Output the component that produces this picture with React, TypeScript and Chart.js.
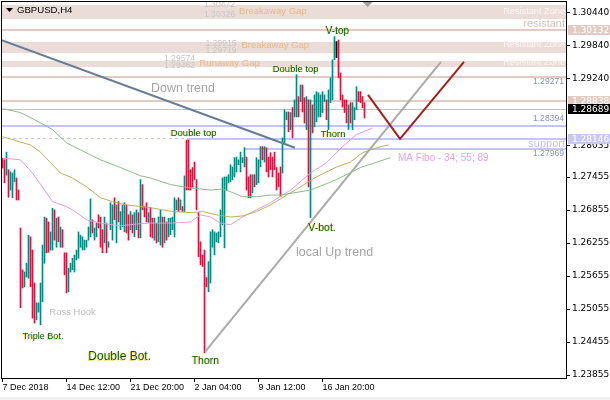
import React, { useEffect, useRef } from "react";
import { Chart, registerables } from "chart.js";

Chart.register(...registerables);

// ---------- data ----------
const symbolTitle = "GBPUSD,H4";

const xTickBars = [0, 32, 64, 96, 128, 160];
const xTickLabels = ["7 Dec 2018", "14 Dec 12:00", "21 Dec 20:00", "2 Jan 04:00", "9 Jan 12:00", "16 Jan 20:00"];
const yTickValues = [1.3044, 1.2984, 1.2924, 1.28035, 1.27455, 1.26855, 1.26255, 1.25655, 1.25055, 1.24455, 1.23855];

const highs = [
  1.2780, 1.2777, 1.2791, 1.2759, 1.2755, 1.2753, 1.2759, 1.2744, 1.2722, 1.2653,
  1.2577, 1.2573, 1.2589, 1.2640, 1.2637, 1.2613, 1.2553, 1.2517, 1.2517, 1.2553,
  1.2622, 1.2673, 1.2671, 1.2664, 1.2646, 1.2689, 1.2686, 1.2671, 1.2673, 1.2655,
  1.2650, 1.2608, 1.2608, 1.2580, 1.2589, 1.2598, 1.2604, 1.2613, 1.2646, 1.2640,
  1.2637, 1.2631, 1.2631, 1.2655, 1.2706, 1.2668, 1.2653, 1.2662, 1.2677, 1.2673,
  1.2650, 1.2673, 1.2662, 1.2628, 1.2699, 1.2695, 1.2708, 1.2695, 1.2701, 1.2683,
  1.2695, 1.2699, 1.2695, 1.2677, 1.2683, 1.2677, 1.2681, 1.2686, 1.2681, 1.2741,
  1.2732, 1.2692, 1.2699, 1.2681, 1.2690, 1.2671, 1.2671, 1.2662, 1.2673, 1.2686,
  1.2673, 1.2673, 1.2664, 1.2671, 1.2671, 1.2673, 1.2708, 1.2704, 1.2708, 1.2704,
  1.2692, 1.2748, 1.2813, 1.2813, 1.2759, 1.2763, 1.2773, 1.2741, 1.2681, 1.2628,
  1.2604, 1.2613, 1.2563, 1.2592, 1.2646, 1.2650, 1.2646, 1.2644, 1.2646, 1.2686,
  1.2744, 1.2746, 1.2746, 1.2750, 1.2768, 1.2764, 1.2781, 1.2782, 1.2777, 1.2791,
  1.2781, 1.2799, 1.2782, 1.2746, 1.2750, 1.2750, 1.2750, 1.2781, 1.2777, 1.2801,
  1.2801, 1.2801, 1.2799, 1.2782, 1.2790, 1.2782, 1.2791, 1.2763, 1.2753, 1.2764,
  1.2817, 1.2868, 1.2864, 1.2864, 1.2863, 1.2872, 1.2886, 1.2932, 1.2892, 1.2913,
  1.2913, 1.2890, 1.2892, 1.2886, 1.2886, 1.2877, 1.2895, 1.2901, 1.2899, 1.2895,
  1.2901, 1.2895, 1.2886, 1.2904, 1.2926, 1.2959, 1.3001, 1.2992, 1.2995, 1.2935,
  1.2895, 1.2886, 1.2886, 1.2877, 1.2881, 1.2881, 1.2872, 1.2910, 1.2901, 1.2901,
  1.2892, 1.2881,
];

const lows = [
  1.2762, 1.2735, 1.2749, 1.2709, 1.2722, 1.2708, 1.2737, 1.2704, 1.2704, 1.2508,
  1.2544, 1.2546, 1.2564, 1.2562, 1.2546, 1.2489, 1.2480, 1.2486, 1.2500, 1.2477,
  1.2519, 1.2589, 1.2608, 1.2609, 1.2613, 1.2613, 1.2631, 1.2618, 1.2628, 1.2618,
  1.2618, 1.2568, 1.2535, 1.2537, 1.2573, 1.2577, 1.2573, 1.2595, 1.2598, 1.2618,
  1.2613, 1.2613, 1.2618, 1.2631, 1.2637, 1.2644, 1.2631, 1.2637, 1.2653, 1.2618,
  1.2608, 1.2626, 1.2608, 1.2618, 1.2650, 1.2631, 1.2668, 1.2626, 1.2664, 1.2650,
  1.2655, 1.2646, 1.2644, 1.2631, 1.2650, 1.2644, 1.2637, 1.2650, 1.2635, 1.2635,
  1.2686, 1.2673, 1.2664, 1.2663, 1.2637, 1.2635, 1.2631, 1.2626, 1.2628, 1.2622,
  1.2618, 1.2626, 1.2631, 1.2637, 1.2641, 1.2650, 1.2637, 1.2686, 1.2683, 1.2686,
  1.2683, 1.2683, 1.2722, 1.2722, 1.2722, 1.2728, 1.2741, 1.2686, 1.2601, 1.2586,
  1.2583, 1.2426, 1.2546, 1.2537, 1.2553, 1.2618, 1.2604, 1.2628, 1.2626, 1.2637,
  1.2659, 1.2617, 1.2722, 1.2735, 1.2737, 1.2741, 1.2746, 1.2755, 1.2768, 1.2755,
  1.2772, 1.2764, 1.2722, 1.2708, 1.2708, 1.2717, 1.2728, 1.2732, 1.2735, 1.2764,
  1.2777, 1.2773, 1.2755, 1.2746, 1.2759, 1.2746, 1.2759, 1.2722, 1.2728, 1.2710,
  1.2753, 1.2808, 1.2850, 1.2828, 1.2832, 1.2817, 1.2855, 1.2855, 1.2855, 1.2883,
  1.2864, 1.2844, 1.2832, 1.2728, 1.2672, 1.2826, 1.2837, 1.2846, 1.2855, 1.2855,
  1.2863, 1.2883, 1.2850, 1.2832, 1.2881, 1.2886, 1.2959, 1.2963, 1.2926, 1.2886,
  1.2873, 1.2863, 1.2844, 1.2832, 1.2844, 1.2832, 1.2850, 1.2868, 1.2883, 1.2881,
  1.2872, 1.2853,
];

// u = up bar, d = down bar, k = unchanged
const barDirs = (
  "dduduuuddd" + "duuuddduuu" + "uudduududu" + "ddduuuuuuu" + "uuuuuduudd" +
  "duduuududu" + "uudduduudu" + "dddudduduu" + "duduuuuudu" + "dudddddddd" +
  "ddduuuuuuu" + "uuuuuuuuuu" + "uuddduduuu" + "dudddddddd" + "uuududuudu" +
  "ddududuuuu" + "uuduuuukdd" + "ddduduuudd" + "dd"
).split("");

// moving averages sampled at bar index: [bar, value]
const ma34 = [
  [0, 1.2780], [9, 1.2777], [15, 1.2753], [22, 1.2717], [25, 1.2701], [32, 1.2692], [35, 1.2686],
  [42, 1.2668], [49, 1.2662], [59, 1.2657], [69, 1.2661], [74, 1.2662], [85, 1.2662], [94, 1.2664],
  [99, 1.2677], [104, 1.2673], [109, 1.2662], [114, 1.2659], [120, 1.2673], [127, 1.2686],
  [134, 1.2699], [144, 1.2722], [154, 1.2753], [162, 1.2772], [170, 1.2801], [177, 1.2823], [185, 1.2835],
];
const ma55 = [
  [0, 1.2819], [4, 1.2815], [14, 1.2804], [19, 1.2791], [24, 1.2772], [29, 1.2753], [35, 1.2744],
  [42, 1.2728], [49, 1.2708], [55, 1.2701], [62, 1.2695], [69, 1.2692], [74, 1.2690], [85, 1.2683],
  [94, 1.2681], [100, 1.2683], [107, 1.2677], [114, 1.2673], [120, 1.2675], [127, 1.2683],
  [134, 1.2695], [149, 1.2728], [157, 1.2746], [167, 1.2764], [174, 1.2773], [180, 1.2790],
  [189, 1.2801], [193, 1.2804],
];
const ma89 = [
  [0, 1.2870], [9, 1.2863], [16, 1.2850], [25, 1.2832], [32, 1.2808], [39, 1.2795], [49, 1.2777],
  [59, 1.2763], [69, 1.2748], [74, 1.2744], [84, 1.2732], [94, 1.2726], [104, 1.2722], [110, 1.2724],
  [114, 1.2719], [120, 1.2710], [127, 1.2710], [134, 1.2713], [139, 1.2713], [154, 1.2722],
  [167, 1.2741], [179, 1.2763], [194, 1.2781],
];

const zoneTops = [1.3059, 1.29915, 1.29574];
const zoneBottoms = [1.30326, 1.29719, 1.29462];
const resistanceLevels = [1.30132, 1.29271, 1.28838];
const supportLevels = [1.28394, 1.28146, 1.27969];
const supportFromBar = [-1, 92, 121];
const supportDashedBefore = [false, true, false];
const lastPrice = 1.28689;

const downTrend = [[-0.75, 1.2995], [146.25, 1.2799]];
const upTrend = [[101.25, 1.2428], [219.25, 1.2955]];
const forecastPath = [[182.75, 1.2895], [198.75, 1.2815], [230.75, 1.2955]];

const axisBoxes = [
  { value: 1.30132, kind: "res" },
  { value: 1.28838, kind: "res" },
  { value: 1.28689, kind: "last" },
  { value: 1.28146, kind: "sup" },
];

// ---------- styles ----------
const SANS = "'Liberation Sans', Arial, sans-serif";
const DJV = "'DejaVu Sans', sans-serif";
const TEAL = "#00897f";
const RED = "#e0103c";
const ZONE_FILL = "#ecdcd8";
const RES_LINE = "#e2cbc4";
const SUP_LINE = "#c4c4f6";

const noteStyles: any = {
  gapNum: { font: `8.6px ${SANS}`, color: "#c6c6c6" },
  gap: { font: `9.5px ${SANS}`, color: "#e2bb8a" },
  pattern: { font: `9.5px ${SANS}`, color: "#0b5a0b", shadow: "#d8c400" },
  trend: { font: `12.5px ${SANS}`, color: "#a4a4a4" },
  hook: { font: `9.5px ${SANS}`, color: "#bcbcbc" },
  zone: { font: `9.2px ${SANS}`, color: "#fbf6f5" },
  resistant: { font: `11px ${SANS}`, color: "#d8c0ba" },
  level: { font: `8.6px ${SANS}`, color: "#8a94a8" },
  support: { font: `11px ${SANS}`, color: "#c0c0f2" },
  ma: { font: `10px ${SANS}`, color: "#e3a5e3" },
};

const chartNotes: any[] = [
  { text: "1.30472", bar: 116.25, price: 1.30594, kind: "gapNum", align: "right" },
  { text: "1.30326", bar: 116.25, price: 1.30412, kind: "gapNum", align: "right" },
  { text: "Breakaway Gap", bar: 118.25, price: 1.30476, kind: "gap", align: "left" },
  { text: "1.29915", bar: 117, price: 1.29885, kind: "gapNum", align: "right" },
  { text: "1.29719", bar: 117, price: 1.29758, kind: "gapNum", align: "right" },
  { text: "Breakaway Gap", bar: 119.5, price: 1.29849, kind: "gap", align: "left" },
  { text: "1.29574", bar: 96.25, price: 1.29612, kind: "gapNum", align: "right" },
  { text: "1.29462", bar: 96.25, price: 1.29476, kind: "gapNum", align: "right" },
  { text: "Runaway Gap", bar: 98.5, price: 1.29531, kind: "gap", align: "left" },
  { text: "Down trend", bar: 74.25, price: 1.29058, kind: "trend", align: "left" },
  { text: "local Up trend", bar: 146.75, price: 1.26076, kind: "trend", align: "left" },
  { text: "Double top", bar: 135.1, price: 1.29422, kind: "pattern", align: "left" },
  { text: "V-top", bar: 161.6, price: 1.30112, kind: "pattern", align: "left", size: 10 },
  { text: "Double top", bar: 84.1, price: 1.28258, kind: "pattern", align: "left" },
  { text: "Thorn", bar: 159.1, price: 1.2824, kind: "pattern", align: "left", size: 9.5 },
  { text: "V-bot.", bar: 152.9, price: 1.26531, kind: "pattern", align: "left", size: 10.5 },
  { text: "Ross Hook", bar: 23.4, price: 1.25004, kind: "hook", align: "left" },
  { text: "Triple Bot.", bar: 10.1, price: 1.24549, kind: "pattern", align: "left", size: 9 },
  { text: "Double Bot.", bar: 42.9, price: 1.24185, kind: "pattern", align: "left", size: 12 },
  { text: "Thorn", bar: 94.6, price: 1.24113, kind: "pattern", align: "left", size: 10.5 },
  { text: "Resistant Zone", bar: 281.25, price: 1.30476, kind: "zone", align: "right" },
  { text: "resistant", bar: 281.25, price: 1.3024, kind: "resistant", align: "right" },
  { text: "Resistant Zone", bar: 281.25, price: 1.29876, kind: "zone", align: "right" },
  { text: "Resistant Zone", bar: 281.25, price: 1.29549, kind: "zone", align: "right" },
  { text: "1.29271", bar: 280.75, price: 1.29185, kind: "level", align: "right" },
  { text: "1.28394", bar: 280.75, price: 1.28512, kind: "level", align: "right" },
  { text: "support", bar: 281.25, price: 1.28067, kind: "support", align: "right" },
  { text: "1.27969", bar: 280.75, price: 1.27876, kind: "level", align: "right" },
  { text: "MA Fibo - 34; 55; 89", bar: 197.75, price: 1.27803, kind: "ma", align: "left" },
];

const overlayPlugin = {
  id: "overlay",
  beforeDraw(chart: any) {
    const { ctx } = chart;
    ctx.save();
    ctx.fillStyle = "#ffffff";
    ctx.fillRect(0, 0, chart.width, chart.height);
    ctx.fillStyle = "#f0f0f0";
    ctx.fillRect(0, chart.height - 3, chart.width, 3);
    ctx.restore();
  },
  beforeDatasetsDraw(chart: any) {
    const { ctx, chartArea: a, scales } = chart;
    const xs = scales.x, ys = scales.y;
    const py = (v: number) => ys.getPixelForValue(v);
    const w = a.right - a.left;
    ctx.save();
    ctx.beginPath();
    ctx.rect(a.left, a.top, w, a.bottom - a.top);
    ctx.clip();
    ctx.fillStyle = ZONE_FILL;
    zoneTops.forEach((t, k) => {
      const y1 = Math.round(py(t));
      const y2 = Math.round(py(zoneBottoms[k]));
      ctx.fillRect(a.left, y1, w, y2 - y1);
    });
    ctx.fillStyle = RES_LINE;
    resistanceLevels.forEach((v) => ctx.fillRect(a.left, Math.round(py(v)) - 1, w, 2));
    ctx.fillStyle = "#c0c0c0";
    ctx.fillRect(a.left, Math.floor(py(lastPrice)), w, 1);
    supportLevels.forEach((v, k) => {
      const yy = Math.round(py(v));
      const xStart = Math.max(a.left, Math.round(xs.getPixelForValue(supportFromBar[k])));
      ctx.fillStyle = SUP_LINE;
      ctx.fillRect(xStart, yy - 1, a.right - xStart, 2);
      if (supportDashedBefore[k] && xStart > a.left) {
        ctx.strokeStyle = SUP_LINE;
        ctx.lineWidth = 1;
        ctx.setLineDash([3, 3]);
        ctx.beginPath();
        ctx.moveTo(a.left, yy - 0.5);
        ctx.lineTo(xStart, yy - 0.5);
        ctx.stroke();
        ctx.setLineDash([]);
      }
    });
    ctx.restore();
  },
  afterDatasetsDraw(chart: any) {
    const { ctx, chartArea: a, scales } = chart;
    const xs = scales.x, ys = scales.y;
    ctx.save();
    ctx.beginPath();
    ctx.rect(a.left, a.top, a.right - a.left, a.bottom - a.top);
    ctx.clip();
    ctx.textBaseline = "middle";
    chartNotes.forEach((n) => {
      const st = noteStyles[n.kind];
      ctx.font = n.size ? `${n.size}px ${SANS}` : st.font;
      ctx.textAlign = n.align;
      const px = xs.getPixelForValue(n.bar);
      const pyy = ys.getPixelForValue(n.price);
      if (st.shadow) {
        ctx.globalAlpha = 0.55;
        ctx.fillStyle = st.shadow;
        ctx.fillText(n.text, px - 1, pyy + 0.5);
        ctx.globalAlpha = 1;
      }
      ctx.fillStyle = st.color;
      ctx.fillText(n.text, px, pyy);
    });
    // chart shift marker
    const mx = xs.getPixelForValue(highs.length + 0.6);
    ctx.fillStyle = "#a0a0a0";
    ctx.beginPath();
    ctx.moveTo(mx - 5, a.top + 1);
    ctx.lineTo(mx + 5, a.top + 1);
    ctx.lineTo(mx, a.top + 6);
    ctx.closePath();
    ctx.fill();
    // title
    ctx.fillStyle = "#000";
    ctx.beginPath();
    ctx.moveTo(a.left + 5, a.top + 7);
    ctx.lineTo(a.left + 12, a.top + 7);
    ctx.lineTo(a.left + 8.5, a.top + 11);
    ctx.closePath();
    ctx.fill();
    ctx.font = `9.6px ${SANS}`;
    ctx.textAlign = "left";
    ctx.fillText(symbolTitle, a.left + 16, a.top + 9.5);
    ctx.restore();
  },
  afterDraw(chart: any) {
    const { ctx, chartArea: a, scales } = chart;
    const ys = scales.y;
    ctx.save();
    // frame
    ctx.fillStyle = "#000";
    ctx.fillRect(a.left, a.top, 1, a.bottom - a.top);
    ctx.fillRect(a.left, a.top, a.right - a.left, 1);
    // price boxes on the axis
    ctx.font = `9px ${DJV}`;
    ctx.textBaseline = "middle";
    ctx.textAlign = "left";
    axisBoxes.forEach((b) => {
      const yy = Math.round(ys.getPixelForValue(b.value));
      const bg = b.kind === "last" ? "#000000" : b.kind === "sup" ? "#c8c8f6" : "#e2cbc4";
      ctx.fillStyle = bg;
      ctx.fillRect(a.right + 2, yy - 5, chart.width - a.right - 2, 10);
      ctx.fillStyle = "#ffffff";
      ctx.fillText(b.value.toFixed(5), a.right + 6, yy + 0.5);
    });
    ctx.restore();
  },
};

export default function App() {
  const ref = useRef<HTMLCanvasElement | null>(null);
  useEffect(() => {
    document.body.style.margin = "0";
    const canvas = ref.current as HTMLCanvasElement;
    const barData = highs.map((h, i) => ({ x: i, y: [lows[i], h] }));
    const barColors = barDirs.map((d) => (d === "u" ? TEAL : d === "d" ? RED : "#000000"));
    const toPts = (arr: number[][]) => arr.map((p) => ({ x: p[0], y: p[1] }));
    const lineDs = (arr: number[][], color: string, width: number, order: number) => ({
      type: "line",
      data: toPts(arr),
      borderColor: color,
      borderWidth: width,
      pointRadius: 0,
      tension: 0,
      fill: false,
      order,
    });
    const chart = new Chart(canvas, {
      type: "bar",
      data: {
        datasets: [
          {
            type: "bar",
            data: barData,
            backgroundColor: barColors,
            borderWidth: 0,
            barThickness: 1,
            order: 5,
          } as any,
          lineDs(ma89, "#8dbb88", 1, 4),
          lineDs(ma55, "#b9b15e", 1, 4),
          lineDs(ma34, "#dd9fdd", 1, 4),
          lineDs(downTrend, "#667d96", 2, 2),
          lineDs(upTrend, "#aaaaaa", 2, 2),
          lineDs(forecastPath, "#a3201f", 2, 1),
        ],
      },
      options: {
        responsive: false,
        animation: false,
        devicePixelRatio: 1,
        events: [],
        layout: { padding: { left: 1, top: 1, right: 0, bottom: 0 } },
        plugins: { legend: { display: false }, tooltip: { enabled: false } },
        scales: {
          x: {
            type: "linear",
            position: "bottom",
            offset: false,
            min: -0.75,
            max: 281.75,
            afterFit: (s: any) => {
              s.height = 22;
              s.paddingLeft = 0;
              s.paddingRight = 0;
            },
            afterBuildTicks: (s: any) => {
              s.ticks = xTickBars.map((v) => ({ value: v }));
            },
            ticks: {
              autoSkip: false,
              maxRotation: 0,
              minRotation: 0,
              align: "start",
              padding: 0,
              color: "#000",
              font: { family: "'Liberation Sans', Arial, sans-serif", size: 9 },
              callback: (v: any) => {
                const k = xTickBars.indexOf(Number(v));
                return k >= 0 ? xTickLabels[k] : "";
              },
            },
            grid: { offset: false, drawOnChartArea: false, drawTicks: true, tickLength: 4, color: "#000" },
            border: { display: true, color: "#000", width: 1 },
          },
          y: {
            type: "linear",
            position: "right",
            min: 1.23803,
            max: 1.30658,
            afterFit: (s: any) => {
              s.width = 44;
              s.paddingTop = 0;
              s.paddingBottom = 0;
            },
            afterBuildTicks: (s: any) => {
              s.ticks = yTickValues.map((v) => ({ value: v }));
            },
            ticks: {
              autoSkip: false,
              padding: 2,
              color: "#000",
              font: { family: "'DejaVu Sans', sans-serif", size: 9 },
              callback: (v: any) => Number(v).toFixed(5),
            },
            grid: { drawOnChartArea: false, drawTicks: true, tickLength: 4, color: "#000" },
            border: { display: true, color: "#000", width: 1 },
          },
        },
      } as any,
      plugins: [overlayPlugin],
    } as any);
    return () => chart.destroy();
  }, []);
  return (
    <div style={{ width: 610, height: 400 }}>
      <canvas ref={ref} width={610} height={400} style={{ display: "block", width: 610, height: 400 }} />
    </div>
  );
}
